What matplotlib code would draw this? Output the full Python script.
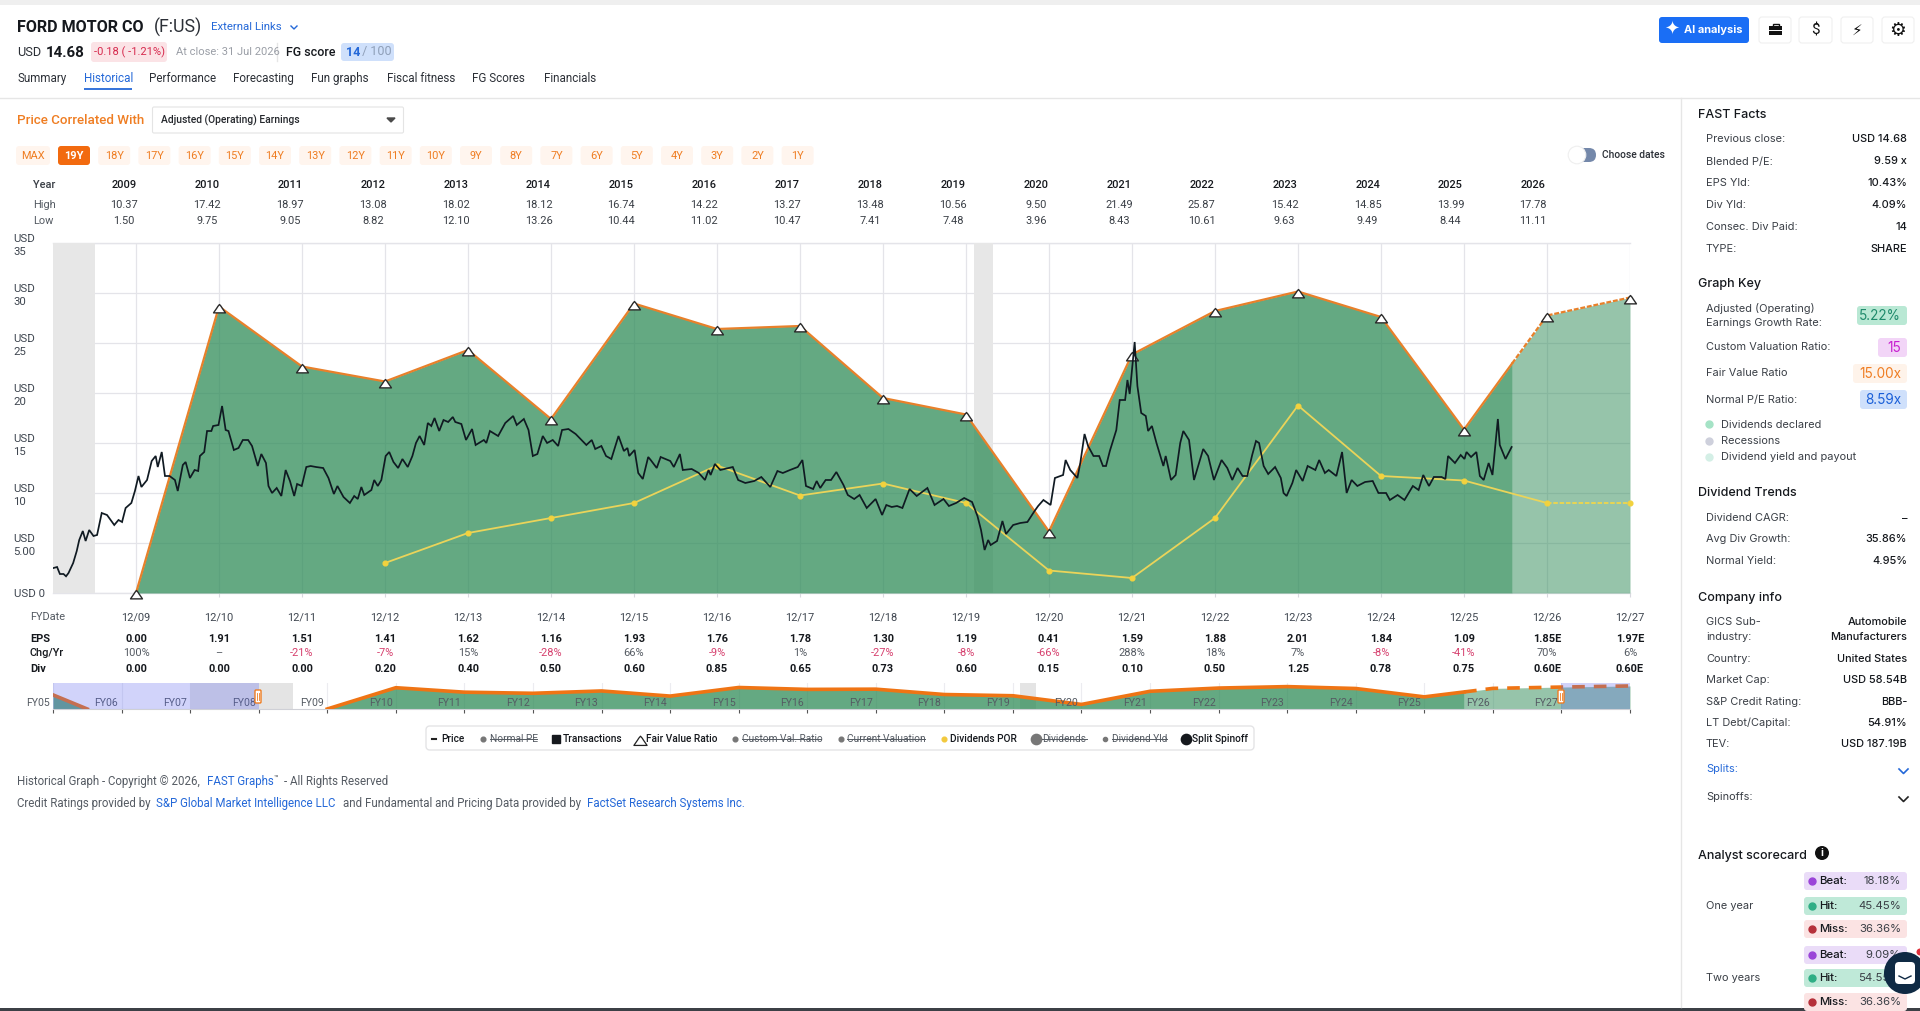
import numpy as np
import matplotlib
matplotlib.use("Agg")
import matplotlib.pyplot as plt
from matplotlib.patches import FancyBboxPatch, Rectangle, Circle
from matplotlib.path import Path

W, H = 1920, 1011
plt.rcParams['font.family'] = ['Roboto', 'DejaVu Sans']

# ---------- data ----------
fy_labels = ['12/09','12/10','12/11','12/12','12/13','12/14','12/15','12/16','12/17','12/18',
             '12/19','12/20','12/21','12/22','12/23','12/24','12/25','12/26','12/27']
fy_pos = list(range(19))
eps_text = ['0.00','1.91','1.51','1.41','1.62','1.16','1.93','1.76','1.78','1.30','1.19','0.41',
            '1.59','1.88','2.01','1.84','1.09','1.85E','1.97E']
chg_text = ['100%','–','-21%','-7%','15%','-28%','66%','-9%','1%','-27%','-8%','-66%','288%',
            '18%','7%','-8%','-41%','70%','6%']
div_text = ['0.00','0.00','0.00','0.20','0.40','0.50','0.60','0.85','0.65','0.73','0.60','0.15',
            '0.10','0.50','1.25','0.78','0.75','0.60E','0.60E']
fair_value = [0.0,28.65,22.65,21.15,24.3,17.4,28.95,26.4,26.7,19.5,17.85,6.15,23.85,28.2,30.15,
              27.6,16.35,27.75,29.55]
div_pos = list(range(3,19))
div_por = [3.0,6.0,7.5,9.0,12.75,9.75,10.95,9.0,2.25,1.5,7.5,18.75,11.7,11.25,9.0,9.0]
years = ['2009','2010','2011','2012','2013','2014','2015','2016','2017','2018','2019','2020',
         '2021','2022','2023','2024','2025','2026']
high = ['10.37','17.42','18.97','13.08','18.02','18.12','16.74','14.22','13.27','13.48','10.56',
        '9.50','21.49','25.87','15.42','14.85','13.99','17.78']
low = ['1.50','9.75','9.05','8.82','12.10','13.26','10.44','11.02','10.47','7.41','7.48','3.96',
       '8.43','10.61','9.63','9.49','8.44','11.11']
forecast_start = 16.58
recessions = [(-2.0,-0.5),(10.1,10.33)]
nav_pre_x = [-4.0,-3.5]
nav_pre_y = [19.0,0.0]
nav_extra_x = 19
nav_extra_y = 31.0

price_x = [-0.994,-0.951,-0.917,-0.873,-0.843,-0.813,-0.757,-0.714,-0.684,-0.641,-0.607,-0.564,-0.512,
 -0.469,-0.413,-0.349,-0.262,-0.211,-0.168,-0.125,-0.056,-0.013,0.030,0.065,0.133,0.189,0.237,0.262,
 0.310,0.349,0.404,0.469,0.503,0.564,0.598,0.650,0.706,0.749,0.770,0.822,0.856,0.908,0.929,0.994,
 1.037,1.080,1.114,1.179,1.235,1.287,1.351,1.398,1.467,1.510,1.566,1.596,1.639,1.695,1.751,1.803,
 1.855,1.906,1.941,1.997,2.052,2.104,2.169,2.255,2.319,2.384,2.427,2.500,2.577,2.629,2.672,2.715,
 2.750,2.836,2.870,2.913,2.956,3.008,3.051,3.102,3.158,3.210,3.274,3.330,3.373,3.417,3.472,3.516,
 3.558,3.597,3.653,3.705,3.761,3.817,3.847,3.920,3.976,4.049,4.092,4.191,4.221,4.264,4.363,4.449,
 4.544,4.587,4.673,4.729,4.781,4.836,4.901,4.953,5.021,5.086,
 5.133,5.210,5.297,5.426,5.491,5.533,5.607,5.663,5.727,5.813,5.878,5.921,5.942,6.007,6.051,6.106,
 6.171,6.201,6.274,6.321,6.437,6.480,6.553,6.588,6.695,6.781,6.855,6.898,6.923,6.975,7.040,7.190,
 7.255,7.341,7.449,7.534,7.642,7.728,7.793,7.879,7.973,8.029,8.072,8.158,8.201,8.244,8.309,8.374,
 8.438,8.524,8.576,8.653,8.718,8.804,8.911,8.989,9.040,9.105,9.169,9.234,9.320,9.406,9.535,9.621,
 9.729,9.794,9.880,9.978,10.073,10.138,10.181,10.224,10.267,10.297,10.374,10.439,10.482,10.568,
 10.654,10.740,10.826,10.869,10.933,11.019,11.071,11.170,11.200,11.256,11.342,11.377,11.428,11.471,
 11.536,11.604,11.650,11.687,11.733,11.811,11.852,11.917,11.945,11.972,12.032,12.065,12.111,12.166,
 12.194,12.240,12.295,12.378,12.406,12.470,12.526,12.581,12.618,12.687,12.747,12.858,12.917,12.987,
 13.079,13.148,13.208,13.272,13.332,13.388,13.448,13.494,13.531,13.586,13.641,13.724,13.793,13.826,
 13.863,13.932,13.978,14.056,14.116,14.209,14.255,14.324,14.370,14.462,14.531,14.586,14.646,14.715,
 14.808,14.900,14.969,15.061,15.107,15.200,15.283,15.384,15.453,15.509,15.578,15.637,15.730,15.776,
 15.808,15.891,15.960,16.006,16.030,16.085,16.149,16.191,16.237,16.297,16.343,16.408,16.431,16.500,16.574]
price_y = [2.5,2.6,1.9,1.9,1.67,2.0,3.0,4.2,5.3,6.2,5.2,6.3,5.7,
 5.8,8.0,7.8,6.8,7.3,7.1,8.5,9.0,10.2,11.7,10.6,11.3,13.2,13.7,12.6,
 14.1,11.7,11.7,11.3,10.2,12.8,13.1,11.5,12.3,12.2,13.7,14.1,16.2,16.2,16.7,16.8,
 18.7,16.3,16.2,14.3,14.5,15.3,15.3,14.7,12.7,13.9,13.0,10.7,10.0,10.5,9.7,12.3,
 11.2,9.7,10.9,10.7,12.6,12.7,12.6,12.5,11.5,9.9,10.7,9.6,9.0,9.7,9.4,10.6,
 9.8,10.3,11.3,10.7,11.3,13.7,14.1,13.1,12.5,13.4,12.6,13.7,15.0,15.7,14.8,17.0,
 16.7,17.5,16.2,17.3,17.1,17.6,17.1,16.9,15.3,16.4,14.8,15.3,15.0,16.2,15.7,17.0,
 17.7,16.8,17.4,16.3,13.7,13.9,15.7,15.0,15.3,14.7,
 16.3,16.4,15.9,14.8,15.3,14.4,14.7,13.7,13.4,15.7,14.2,14.5,13.7,14.3,12.0,11.4,
 13.6,13.3,12.5,13.6,13.2,12.6,13.9,12.3,12.4,12.0,11.3,12.3,11.8,12.9,12.3,12.6,
 11.3,11.0,11.2,11.6,10.6,12.2,12.0,12.3,12.6,13.3,10.7,10.4,11.2,10.5,11.3,11.3,
 12.1,10.8,9.8,9.4,9.8,8.5,9.4,7.8,8.8,8.6,8.7,8.5,10.4,9.7,10.5,8.8,
 9.4,8.7,9.0,9.5,9.1,7.7,6.3,4.3,5.3,4.8,5.2,7.2,5.9,6.8,
 7.0,7.1,8.2,8.7,9.3,8.8,11.5,11.8,13.3,12.3,11.5,13.0,15.9,14.7,
 13.7,13.7,12.7,12.7,14.2,16.3,19.3,19.3,21.3,19.9,25.1,20.7,18.0,17.7,
 16.2,16.7,15.0,12.7,13.7,11.3,11.8,15.0,16.2,15.3,11.3,14.4,13.7,11.3,
 13.3,12.5,11.3,12.5,11.7,11.7,13.8,15.2,15.0,12.7,11.9,12.6,11.5,10.0,
 9.7,11.0,12.3,11.2,12.7,12.3,13.3,12.0,12.3,11.7,14.1,10.0,11.3,10.7,
 11.1,11.2,10.0,10.0,9.3,9.8,9.3,10.7,10.3,11.8,10.7,11.6,11.6,11.4,
 13.7,13.0,13.8,13.4,14.1,13.6,14.1,11.7,11.3,13.0,11.8,17.4,14.8,13.4,14.6]

GREEN = '#2e8b57'
ORANGE = '#e8802a'
YELLOW = '#efd64b'
BLUE = '#2468d8'

fig = plt.figure(figsize=(W/100, H/100), dpi=100, facecolor='white')

def px_axes(l, t, r, b, z):
    return fig.add_axes([l/W, 1-b/H, (r-l)/W, (b-t)/H], zorder=z)

ui = px_axes(0, 0, W, H, 0)
ui.set_xlim(0, W); ui.set_ylim(H, 0); ui.axis('off')

def txt(x, y, s, size=9, color='#2b2f36', weight='normal', ha='left', family=None, a=None, **kw):
    a = a or ui
    if family: kw['family'] = family
    return a.text(x, y + 2, s, fontsize=size, color=color, fontweight=weight, ha=ha, va='center', **kw)

def box(x0, y0, x1, y1, fc, ec='none', r=3, lw=0.8, a=None, z=1):
    a = a or ui
    p = FancyBboxPatch((x0, y0), x1-x0, y1-y0, boxstyle=f'round,pad=0,rounding_size={r}',
                       fc=fc, ec=ec, lw=lw, zorder=z)
    a.add_patch(p)
    return p

# chrome
ui.add_patch(Rectangle((0, 0), W, 5, fc='#efefef', ec='none'))
ui.add_patch(Rectangle((0, 1008), W, 3, fc='#3c4046', ec='none'))
ui.plot([0, W], [97.5, 97.5], color='#e6e6e6', lw=1)
ui.plot([1681, 1681], [98, 1007], color='#e6e6e6', lw=1)

# header
txt(17, 25, 'FORD MOTOR CO', 11.6, '#15181d', 'bold')
txt(154, 25, '(F:US)', 12.8, '#2b2f36')
txt(211, 25, 'External Links', 8.2, BLUE)
ui.plot([291, 294, 297], [26, 29, 26], color=BLUE, lw=1)
txt(17, 51, 'USD', 9.2, '#2b2f36')
txt(46, 51, '14.68', 10.9, '#15181d', 'bold')
box(91, 42, 167, 62, '#fbe3e6')
txt(129, 50, '-0.18 ( -1.21%)', 8, '#d6294d', ha='center')
txt(175.5, 50, 'At close: 31 Jul 2026', 8, '#9a9ea6')
ui.plot([277, 277], [43, 61], color='#e6e6e6', lw=1)
txt(286, 50, 'FG score', 9, '#15181d', 'medium')
box(341, 43, 394, 61, '#cfe0fb')
txt(346, 50, '14', 9, BLUE, 'bold')
txt(359, 50, ' / 100', 9, '#8f9fb8')
tabs = [('Summary',17),('Historical',84),('Performance',149),('Forecasting',233),('Fun graphs',311),
        ('Fiscal fitness',387),('FG Scores',472),('Financials',544)]
for s, x in tabs:
    txt(x, 76.5, s, 8.4, BLUE if s == 'Historical' else '#2b2f36')
ui.plot([84, 132], [89, 89], color=BLUE, lw=1.3, solid_capstyle='butt')

# top-right buttons
box(1659, 17, 1749, 43, '#1a6ef5', r=3)
txt(1672, 28, '✦', 13, 'white', ha='center', family=['DejaVu Sans'])
txt(1684, 28, 'AI analysis', 7.9, 'white', 'bold', family=['Inter', 'DejaVu Sans'])
for x0, x1 in [(1759, 1791), (1799, 1832), (1841, 1873), (1882, 1914)]:
    box(x0, 17, x1, 43, 'white', '#f0f0f0', r=3)
ui.add_patch(Rectangle((1769, 26), 13, 9, fc='#111', ec='none'))
ui.add_patch(Rectangle((1772.5, 23.5), 6, 3, fc='none', ec='#111', lw=1))
ui.plot([1769, 1782], [30, 30], color='white', lw=0.7)
txt(1815.5, 28, '$', 11, '#111', ha='center')
txt(1857, 28, '⚡', 11, '#111', ha='center', family=['DejaVu Sans'])
txt(1898, 28, '⚙', 13.5, '#111', ha='center', family=['DejaVu Sans'])

# controls
txt(17, 118.5, 'Price Correlated With', 9.6, '#ef7d22', 'medium')
box(152.5, 107, 403.5, 133, 'white', '#e4e4e4', r=1.5)
txt(161, 118.5, 'Adjusted (Operating) Earnings', 7.4, '#24272c', 'medium')
ui.fill([387, 395, 391], [118, 118, 122], color='#4a4a4a')
box(16, 146, 50, 165, '#fff5ee', r=3)
txt(33, 154, 'MAX', 7.9, '#ef7d22', ha='center')
spans = ['19Y','18Y','17Y','16Y','15Y','14Y','13Y','12Y','11Y','10Y','9Y','8Y','7Y','6Y','5Y','4Y','3Y','2Y','1Y']
for i, s in enumerate(spans):
    cx = 74 + i*40.2
    active = i == 0
    box(cx-16, 146, cx+16, 165, '#f26a0f' if active else '#fff5ee', r=3)
    txt(cx, 154, s, 7.9, 'white' if active else '#ef7d22', 'bold' if active else 'normal', ha='center')
box(1576, 148, 1596, 162, '#7488aa', r=7, z=1)
ui.add_patch(Circle((1577, 155), 8.8, fc='white', ec='#efefef', lw=0.8, zorder=2))
txt(1602, 153.5, 'Choose dates', 7.4, '#2b2f36', 'medium')

# year table
txt(33, 182.5, 'Year', 7.9, '#3a3f46', 'medium')
txt(33, 203.5, 'High', 7.9, '#555b63')
txt(33, 219.5, 'Low', 7.9, '#555b63')
for i, (y, h, l) in enumerate(zip(years, high, low)):
    cx = 124 + i*82.9
    txt(cx, 182.5, y, 7.9, '#15181d', 'medium', ha='center')
    txt(cx, 203.5, h, 7.9, '#3a3f46', ha='center')
    txt(cx, 219.5, l, 7.9, '#3a3f46', ha='center')

# ---------- main chart ----------
ax = px_axes(53, 243, 1630, 593, 2)
ax.patch.set_alpha(0)
ax.set_xlim(-1, 18); ax.set_ylim(0, 35)
for s in ax.spines.values():
    s.set_visible(False)
ax.set_xticks(fy_pos); ax.set_xticklabels(fy_labels)
ax.set_yticks([0,5,10,15,20,25,30,35])
ax.set_yticklabels(['USD 0','USD\n5.00','USD\n10','USD\n15','USD\n20','USD\n25','USD\n30','USD\n35'])
ax.grid(True, color='#e4e4e9', lw=0.9)
ax.set_axisbelow(True)
ax.plot([-1, 18], [0, 0], color='#e4e4e9', lw=1, zorder=1, clip_on=False)
ax.plot([-1, 18], [35, 35], color='#e4e4e9', lw=1, zorder=1, clip_on=False)
ax.tick_params(axis='x', length=3, color='#d8d8de', pad=14.4, labelsize=7.9, labelcolor='#3f4650')
ax.tick_params(axis='y', length=0, pad=28.4, labelsize=8.2, labelcolor='#3f4650')
for lab in ax.get_yticklabels():
    lab.set_ha('left'); lab.set_linespacing(1.35)
for lab in ax.get_xticklabels():
    lab.set_va('center')

for a, b in recessions:
    ax.axvspan(max(a, -1), b, color='#e7e7e7', lw=0, zorder=1)
fx = np.array(fy_pos, float)
fy = np.array(fair_value)
split = float(np.interp(forecast_start, fx, fy))
hist_x = np.r_[fx[fx <= forecast_start], forecast_start]
hist_y = np.r_[fy[fx <= forecast_start], split]
fut_x = np.r_[forecast_start, fx[fx > forecast_start]]
fut_y = np.r_[split, fy[fx > forecast_start]]
ax.fill_between(hist_x, 0, hist_y, color=GREEN, alpha=0.74, lw=0, zorder=2)
ax.fill_between(fut_x, 0, fut_y, color=GREEN, alpha=0.5, lw=0, zorder=2)
ax.plot(hist_x, hist_y, color=ORANGE, lw=1.6, zorder=3)
ax.plot(fut_x, fut_y, color=ORANGE, lw=1.6, ls=(0, (2.2, 0.8)), zorder=3, clip_on=False)
dome = Path([(-1,-0.9),(-0.45,-0.1),(-0.3,0.2),(0,0.5),(0.3,0.2),(0.45,-0.1),(1,-0.9),(-1,-0.9)],
            [Path.MOVETO,Path.LINETO,Path.CURVE3,Path.CURVE3,Path.CURVE3,Path.CURVE3,Path.LINETO,Path.CLOSEPOLY])
ax.plot(fx, fy, ls='none', marker=dome, ms=8.6, mfc='white', mec='#2a2a2a', mew=1.0, zorder=5, clip_on=False)
dx = np.array(div_pos, float); dy = np.array(div_por)
ax.plot(np.r_[dx[dx <= 16], forecast_start, 17], np.r_[dy[dx <= 16], np.interp(forecast_start, dx, dy), dy[dx == 17]],
        color='#ead45a', lw=1.3, zorder=4)
ax.plot(dx[dx >= 17], dy[dx >= 17], color=YELLOW, lw=1.3, ls=(0, (2.5, 1)), zorder=4)
ax.plot(dx, dy, ls='none', marker='o', ms=3.4, color='#f2d23e', zorder=4, clip_on=False)
ax.plot(price_x, price_y, color='#101a22', lw=1.25, zorder=6, solid_joinstyle='miter')

# table below the chart
txt(30, 615.5, 'FYDate', 7.9, '#555b63')
txt(30, 636.5, 'EPS', 7.9, '#15181d', 'bold')
txt(30, 651.5, 'Chg/Yr', 7.9, '#15181d', 'medium')
txt(30, 666.5, 'Div', 7.9, '#15181d', 'bold')
for p, e, c, d in zip(fy_pos, eps_text, chg_text, div_text):
    xx = 136 + 83*p
    txt(xx, 636.5, e, 7.9, '#15181d', 'bold', ha='center')
    txt(xx, 651.5, c, 7.9, '#d6406e' if c.startswith('-') else '#555b63', ha='center')
    txt(xx, 666.5, d, 7.9, '#15181d', 'bold', ha='center')

# ---------- navigator ----------
nav = px_axes(53, 683, 1630, 709, 2)
nav.patch.set_alpha(0)
nav.set_xlim(-4, 19); nav.set_ylim(0, 35)
for k, s in nav.spines.items():
    s.set_visible(k == 'bottom')
nav.spines['bottom'].set_color('#cfd0d6')
nav.set_yticks([])
nav.set_xticks(range(-4, 20)); nav.set_xticklabels([])
nav.tick_params(axis='x', length=3, color='#555', width=0.8)
nav.grid(True, axis='x', color='#ececf0', lw=0.8)
nav.set_axisbelow(True)
for a, b in recessions:
    nav.axvspan(a, b, color='#e4e4e4', lw=0, zorder=1)
nx = np.r_[fx, nav_extra_x]; ny = np.r_[fy, nav_extra_y]
nsplit = float(np.interp(forecast_start, nx, ny))
nh_x = np.r_[nx[nx <= forecast_start], forecast_start]; nh_y = np.r_[ny[nx <= forecast_start], nsplit]
nf_x = np.r_[forecast_start, nx[nx > forecast_start]]; nf_y = np.r_[nsplit, ny[nx > forecast_start]]
nav.fill_between(nh_x, 0, nh_y, color=GREEN, alpha=0.74, lw=0, zorder=2)
nav.fill_between(nf_x, 0, nf_y, color=GREEN, alpha=0.5, lw=0, zorder=2)
nav.fill_between(nav_pre_x, 0, nav_pre_y, color=GREEN, alpha=0.74, lw=0, zorder=2)
nav.plot(nh_x, nh_y, color='#ef7414', lw=2.6, zorder=3)
nav.plot(nf_x, nf_y, color='#ef7414', lw=2.6, ls=(0, (3.5, 2.5)), zorder=3)
nav.plot(nav_pre_x, nav_pre_y, color='#ef7414', lw=2.6, zorder=3)
for i in range(-4, 19):
    nav.text(i - 0.22, 8, f'FY{i+9:02d}', ha='center', va='center', fontsize=7.6, color='#555b63', zorder=4, clip_on=False)
nav.axvspan(-4, -1, color='#5a64f0', alpha=0.28, lw=0, zorder=5)
nav.axvspan(18, 19, color='#5a64f0', alpha=0.28, lw=0, zorder=5)

# ---------- legend ----------
box(426, 726, 1254, 750, 'white', '#e4e4e6', r=4, lw=1)
LEG = 739
LS = 7.3
ui.plot([432, 436], [LEG, LEG], color='#222', lw=1.5)
txt(441, LEG-2, 'Price', LS, '#15181d', 'medium')
ui.plot([483], [LEG], 'o', ms=3.4, color='#777')
txt(490, LEG-2, 'Normal PE', LS, '#555b63')
ui.plot([490, 537], [LEG, LEG], color='#555b63', lw=0.7)
ui.plot([556], [LEG], 's', ms=5.6, color='#15181d')
txt(563, LEG-2, 'Transactions', LS, '#15181d', 'medium')
ui.plot([640], [LEG], marker=dome, ms=9.5, mfc='white', mec='#222', mew=0.9, ls='none')
txt(646, LEG-2, 'Fair Value Ratio', LS, '#15181d', 'medium')
ui.plot([735], [LEG], 'o', ms=3.4, color='#777')
txt(742, LEG-2, 'Custom Val. Ratio', LS, '#555b63')
ui.plot([742, 821], [LEG, LEG], color='#555b63', lw=0.7)
ui.plot([841], [LEG], 'o', ms=3.4, color='#777')
txt(847, LEG-2, 'Current Valuation', LS, '#555b63')
ui.plot([847, 925], [LEG, LEG], color='#555b63', lw=0.7)
ui.plot([944], [LEG], 'o', ms=3.4, color='#f2c93e')
txt(950, LEG-2, 'Dividends POR', LS, '#15181d', 'medium')
ui.plot([1036], [LEG], 'o', ms=7.4, color='#777')
txt(1042, LEG-2, 'Dividends', LS, '#555b63')
ui.plot([1042, 1087], [LEG, LEG], color='#555b63', lw=0.7)
ui.plot([1105], [LEG], 'o', ms=3.0, color='#777')
txt(1112, LEG-2, 'Dividend Yld', LS, '#555b63')
ui.plot([1112, 1167], [LEG, LEG], color='#555b63', lw=0.7)
ui.plot([1186], [LEG], 'o', ms=7.4, color='#15181d')
txt(1192, LEG-2, 'Split Spinoff', LS, '#15181d', 'medium')

# footer
FOOT = '#555b63'
txt(17, 779, 'Historical Graph - Copyright © 2026,', 8.3, FOOT)
txt(207, 779, 'FAST Graphs', 8.3, BLUE)
txt(274, 777, '™', 5.5, FOOT)
txt(284, 779, '- All Rights Reserved', 8.3, FOOT)
txt(17, 801.5, 'Credit Ratings provided by', 8.3, FOOT)
txt(156, 801.5, 'S&P Global Market Intelligence LLC', 8.3, BLUE)
txt(343, 801.5, 'and Fundamental and Pricing Data provided by', 8.3, FOOT)
txt(587, 801.5, 'FactSet Research Systems Inc.', 8.3, BLUE)

# ---------- side panel ----------
INTER = ['Inter', 'DejaVu Sans']
L, R = 1706, 1907
RS = 7.9
def head(y, s):
    txt(1698, y, s, 9.0, '#15181d', 'medium', family=INTER)
def row(y, a, b=None, bcol='#15181d', weight='medium'):
    txt(L, y, a, RS, '#3a3f46', family=INTER)
    if b:
        txt(R, y, b, RS, bcol, weight, ha='right', family=INTER)
head(112.5, 'FAST Facts')
for y, a, b in [(137.5,'Previous close:','USD 14.68'),(159.5,'Blended P/E:','9.59 x'),(180.5,'EPS Yld:','10.43%'),
                (202.5,'Div Yld:','4.09%'),(224.5,'Consec. Div Paid:','14'),(246.5,'TYPE:','SHARE')]:
    row(y, a, b)
head(281.5, 'Graph Key')
row(306, 'Adjusted (Operating)'); row(321, 'Earnings Growth Rate:')
row(345, 'Custom Valuation Ratio:'); row(371, 'Fair Value Ratio'); row(398, 'Normal P/E Ratio:')
for x0, y0, y1, fc, col, s in [(1857,306,325,'#b9e8d4','#1f8a6b','5.22%'),(1878,338,357,'#f2d5f7','#c81fd0','15'),
                               (1853,364,383,'#fef3ea','#ef7d22','15.00x'),(1860,390,409,'#cfe0fb','#1a5fd8','8.59x')]:
    box(x0, y0, 1907, y1, fc, r=3)
    txt(1901, (y0+y1)/2-2, s, 9.8, col, ha='right', family=INTER)
for y, c, s in [(424,'#a5e3c6','Dividends declared'),(441,'#ced0dc','Recessions'),(457,'#d4efe6','Dividend yield and payout')]:
    ui.plot([1709], [y], 'o', ms=5, color=c)
    txt(1721, y-1.5, s, RS, '#3a3f46', family=INTER)
head(491, 'Dividend Trends')
for y, a, b in [(516,'Dividend CAGR:','–'),(537,'Avg Div Growth:','35.86%'),(559,'Normal Yield:','4.95%')]:
    row(y, a, b)
head(595.5, 'Company info')
row(620, 'GICS Sub-', 'Automobile'); row(635.5, 'industry:', 'Manufacturers')
for y, a, b in [(657,'Country:','United States'),(678,'Market Cap:','USD 58.54B'),(700,'S&P Credit Rating:','BBB-'),
                (721,'LT Debt/Capital:','54.91%'),(742,'TEV:','USD 187.19B')]:
    row(y, a, b)
txt(L, 767, 'Splits:', RS, BLUE, family=INTER)
ui.plot([1899, 1903.5, 1908], [769, 773.5, 769], color=BLUE, lw=1.2)
txt(L, 795, 'Spinoffs:', RS, '#3a3f46', family=INTER)
ui.plot([1899, 1903.5, 1908], [797, 801.5, 797], color='#222', lw=1.2)
head(854, 'Analyst scorecard')
ui.add_patch(Circle((1822, 853), 7, fc='#111', ec='none'))
txt(1822, 851, 'i', 7.5, 'white', 'bold', ha='center', family=INTER)
txt(L, 904, 'One year', RS, '#3a3f46', family=INTER)
txt(L, 976, 'Two years', RS, '#3a3f46', family=INTER)
for y, fc, dc, a, b in [(881,'#eadcf8','#9a45d8','Beat:','18.18%'),(906,'#bfe9d8','#2fae85','Hit:','45.45%'),
                        (929,'#fbe3e3','#b5303a','Miss:','36.36%'),(955,'#eadcf8','#9a45d8','Beat:','9.09%'),
                        (978,'#bfe9d8','#2fae85','Hit:','54.55%'),(1002,'#fbe3e3','#b5303a','Miss:','36.36%')]:
    box(1804, y-9, 1907, y+9, fc, r=3)
    ui.plot([1812], [y], 'o', ms=5, color=dc, zorder=3)
    txt(1819, y-2, a, 8.2, '#15181d', 'medium', family=INTER, zorder=3)
    txt(1901, y-2, b, 8.2, '#3a3f46', ha='right', family=INTER, zorder=3)

# overlay: navigator handles and chat bubble
top = px_axes(0, 0, W, H, 10)
top.set_xlim(0, W); top.set_ylim(H, 0); top.axis('off'); top.patch.set_alpha(0)
for x in (258, 1561):
    box(x-3, 690, x+3, 703, 'white', '#ef7d22', r=1, lw=1, a=top, z=5)
    top.plot([x-1, x-1], [693, 700], color='#ef7d22', lw=0.6, zorder=6)
    top.plot([x+1, x+1], [693, 700], color='#ef7d22', lw=0.6, zorder=6)
top.add_patch(Circle((1905, 973), 21, fc='#0f2a44', ec='none', zorder=5))
box(1895, 962, 1915, 984, 'white', r=4, a=top, z=6)
top.plot(np.array([1899, 1905, 1911]), [976, 979, 976], color='#0f2a44', lw=1, zorder=7)
top.add_patch(Circle((1920, 952), 3.5, fc='#e0303a', ec='none', zorder=6))

fig.savefig('out.png', dpi=100, facecolor='white')
